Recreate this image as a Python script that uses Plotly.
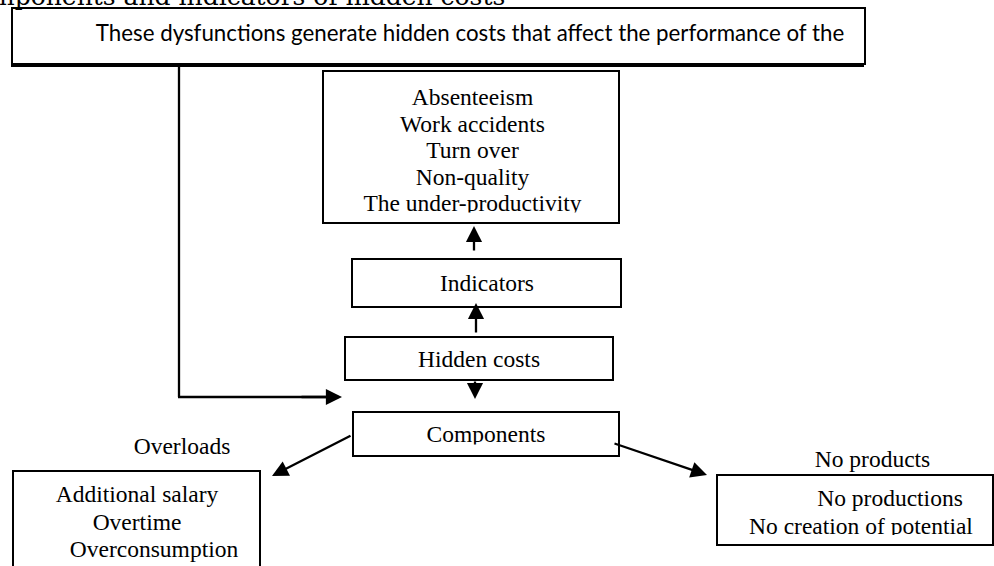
import plotly.graph_objects as go

# ---------------- text content ----------------
title_text = "mponents and indicators of hidden costs"
header_text = "These dysfunctions generate hidden costs that affect the performance of the"
indicator_items = ["Absenteeism", "Work accidents", "Turn over", "Non-quality", "The under-productivity"]
node_labels = ["Indicators", "Hidden costs", "Components"]
branch_labels = ["Overloads", "No products"]
overload_items = ["Additional salary", "Overtime", "Overconsumption"]
no_product_items = ["No productions", "No creation of potential"]

# ---------------- layout (pixel coordinates) ----------------
W, H = 994, 566
SERIF = "Liberation Serif"
SANS = "Lato"
FS = 23.5

fig = go.Figure()

def add_text(xs, ys, texts, size=FS, family=SERIF):
    fig.add_trace(go.Scatter(
        x=xs, y=ys, text=texts, mode="text", textposition="middle center",
        textfont=dict(family=family, size=size, color="black"),
        hoverinfo="skip", showlegend=False, cliponaxis=True))

# list of indicators
add_text([472.5] * 5, [99, 126, 152.5, 179, 205.5], indicator_items)
# node labels
add_text([487, 479, 486], [285, 361, 436], node_labels)
# branch labels
add_text([182, 872.5], [448, 461], branch_labels)
# overloads box items
add_text([137, 137, 154], [496, 524, 551], overload_items)
# no products box items
add_text([890, 861], [500, 528], no_product_items)
# header text
add_text([470], [35], [header_text], size=22.3, family=SANS)

shapes = []
def rect(x0, y0, x1, y1, fill="rgba(0,0,0,0)", line=2, color="black", layer="above"):
    shapes.append(dict(type="rect", x0=x0, y0=y0, x1=x1, y1=y1, xref="x", yref="y",
                       fillcolor=fill, line=dict(width=line, color=color), layer=layer))

def seg(x0, y0, x1, y1, w=2.3):
    shapes.append(dict(type="line", x0=x0, y0=y0, x1=x1, y1=y1, xref="x", yref="y",
                       line=dict(width=w, color="black"), layer="above"))

# header box with shadow (below texts)
rect(11, 10, 864, 67, fill="black", line=0, layer="below")
rect(12, 8, 865, 64, fill="white", line=0, layer="below")

# clip masks (cover bottoms of clipped texts)
rect(325, 212.5, 617, 222, fill="white", line=0)
rect(355, 444.5, 617, 455, fill="white", line=0)
rect(719, 535, 991, 544, fill="white", line=0)

# box outlines
rect(12, 8, 865, 64)
rect(323, 71, 619, 223)
rect(352, 259, 621, 307)
rect(345, 337, 613, 380)
rect(353, 412, 619, 456)
rect(13, 471, 260, 580)
rect(717, 475, 993, 545)

# elbow connector
seg(179, 64, 179, 397)
seg(178, 397, 330, 397)

fig.update_layout(shapes=shapes)

def arrow(x_tail, y_tail, x_tip, y_tip):
    fig.add_annotation(x=x_tip, y=y_tip, ax=x_tail, ay=y_tail, xref="x", yref="y",
                       axref="x", ayref="y", text="", showarrow=True,
                       arrowhead=2, arrowsize=1.4, arrowwidth=2.3, arrowcolor="black")

arrow(474, 252, 474, 226)
arrow(476, 334, 476, 303)
arrow(475, 380, 475, 399)
arrow(300, 397, 342, 397)
arrow(352, 435, 272, 476)
arrow(613, 443, 707, 475)

# cut-off heading at the very top
fig.add_annotation(x=507, y=1, xref="x", yref="paper", yshift=4, text=title_text,
                   showarrow=False, xanchor="right", yanchor="middle",
                   font=dict(family="DejaVu Serif", size=25, color="black"))

fig.update_layout(
    width=W, height=H, margin=dict(l=0, r=0, t=0, b=0),
    paper_bgcolor="white", plot_bgcolor="white",
    xaxis=dict(range=[0, W], visible=False, fixedrange=True),
    yaxis=dict(range=[H, 0], visible=False, fixedrange=True),
)

fig.write_html("out.html", config={"displayModeBar": False},
               post_script="document.body.style.margin='0';document.body.style.overflow='hidden';")
